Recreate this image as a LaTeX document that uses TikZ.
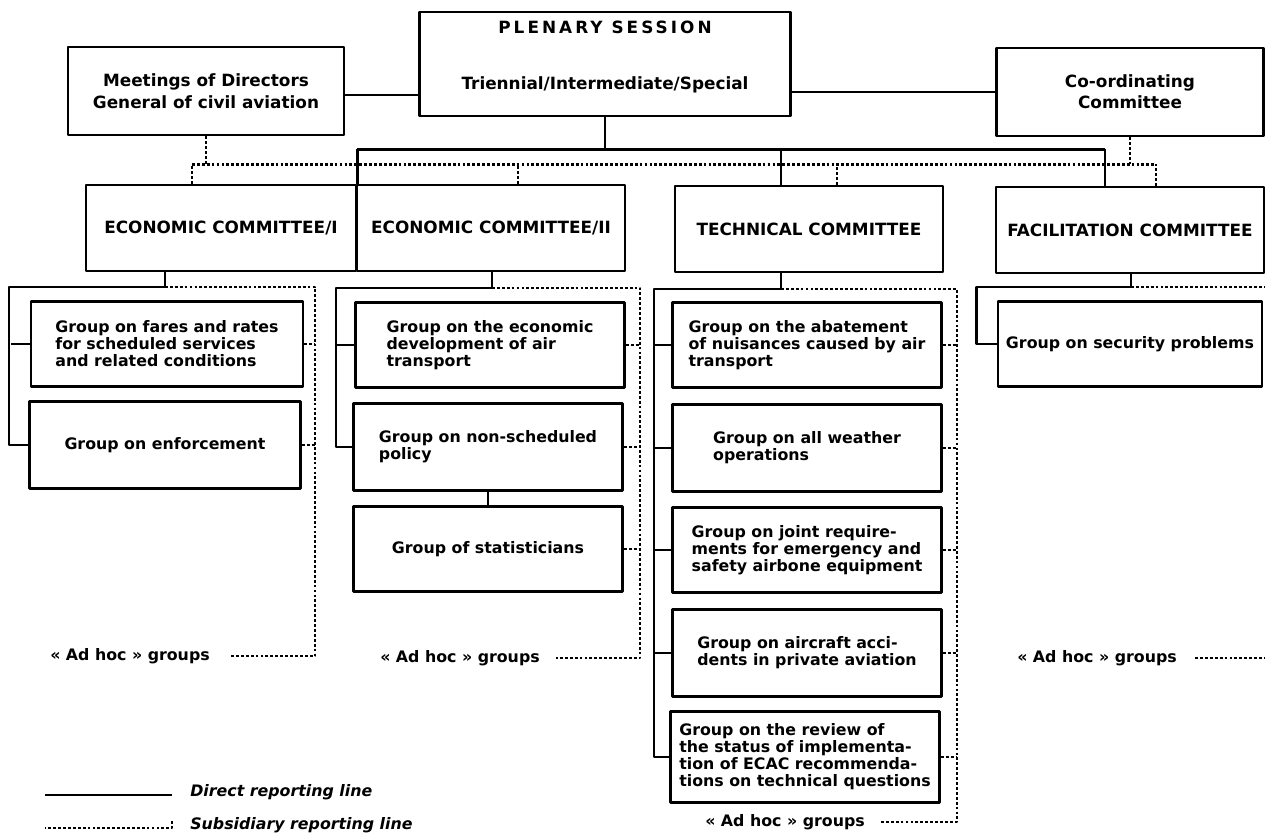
\documentclass[tikz,border=0pt]{standalone}
\usepackage{fontspec}
\setmainfont{DejaVu Sans}
\tikzset{
  box/.style={draw, line width=1.6pt, inner sep=2pt, align=center,
    font=\fontsize{9.6}{12}\selectfont\bfseries},
  topbox/.style={box, minimum height=1.76cm},
  cmt/.style={box, minimum width=5.36cm, minimum height=1.72cm},
  grp/.style={box, minimum width=5.38cm, minimum height=1.7cm, align=left,
    font=\fontsize{9}{9.7}\selectfont\bfseries},
  adhoc/.style={inner sep=0pt, font=\fontsize{9}{10}\selectfont\bfseries},
  legendtext/.style={inner sep=0pt, anchor=west,
    font=\fontsize{9}{10}\selectfont\bfseries\itshape},
  direct/.style={line width=1.5pt},
  subline/.style={line width=1.3pt, dash pattern=on 1.6pt off 1.2pt}
}
\begin{document}
\begin{tikzpicture}[line join=round,x=0.02cm,y=-0.02cm]
  \useasboundingbox (0,0) rectangle (1265,837);
  % top level
  \node[box, minimum width=7.42cm, minimum height=2.08cm] (plen) at (605,64)
    {\raisebox{0pt}[\height][\dimexpr\depth+8pt\relax]{%
     \begin{tabular}{@{}c@{}}{\addfontfeature{LetterSpace=18}PLENARY SESSION}\\[20pt]
     Triennial/Intermediate/Special\end{tabular}}};
  \node[topbox, minimum width=5.52cm] (meet) at (206,91)
    {Meetings of Directors\\[0.5pt]General of civil aviation};
  \node[topbox, minimum width=5.34cm] (coord) at (1130,92)
    {Co-ordinating\\Committee};
  \draw[direct] ([yshift=-0.08cm]meet.east) -- ([yshift=-0.08cm]meet.east -| plen.west);
  \draw[direct] (coord.west) -- (coord.west -| plen.east);
  % committees
  \node[cmt, minimum width=5.4cm] (ec1) at (221,228) {ECONOMIC COMMITTEE/I};
  \node[cmt] (ec2) at (491,228) {ECONOMIC COMMITTEE/II};
  \node[cmt] (tc) at (809,229) {TECHNICAL COMMITTEE};
  \node[cmt] (fc) at (1130,230) {FACILITATION COMMITTEE};
  % direct lines from plenary
  \draw[direct] (plen.south) -- ++(0,32) coordinate (pj);
  \draw[direct] (ec1.north east |- pj) -- ([shift={(-25,0)}]fc.north |- pj);
  \draw[direct] (ec1.north east) -- (ec1.north east |- pj);
  \foreach \n/\d in {tc/-28,fc/-25}
    \draw[direct] ([shift={(\d,0)}]\n.north) -- ([shift={(\d,0)}]\n.north |- pj);
  % subsidiary lines
  \draw[subline] (meet.south) -- ++(0,28) coordinate (mj);
  \draw[subline] (coord.south) -- (coord.south |- mj);
  \draw[subline] ([shift={(-29,0)}]ec1.north |- mj) -- ([shift={(26,0)}]fc.north |- mj);
  \foreach \n/\d in {ec1/-29,ec2/27,tc/28,fc/26}
    \draw[subline] ([shift={(\d,0)}]\n.north) -- ([shift={(\d,0)}]\n.north |- mj);
  % groups of economic committee I
  \node[grp, minimum width=5.44cm] (e1a) at (167,344)
    {Group on fares and rates\\for scheduled services\\and related conditions};
  \node[grp, minimum width=5.42cm, minimum height=1.74cm] (e1b) at (165,445) {Group on enforcement};
  \node[adhoc] (e1h) at (130,656) {«~Ad hoc~» groups};
  \coordinate (e1j) at (165,287);
  \coordinate (e1d) at (315,287);
  \draw[direct] (e1j |- ec1.south) -- (e1j) -| ([xshift=-0.38cm]e1b.west) -- (e1b.west);
  \draw[direct] (e1a.west) -- ++(-19,0);
  \draw[subline] (e1j) -- (e1d) -- (e1d |- e1h.east) -- ([xshift=0.38cm]e1h.east);
  \foreach \g in {e1a,e1b} \draw[subline] (\g.east) -- (\g.east -| e1d);
  % groups of economic committee II
  \node[grp] (e2a) at (490,345) {Group on the economic\\development of air\\transport};
  \node[grp, minimum height=1.74cm] (e2b) at (488,447) {Group on non-scheduled\\policy};
  \node[grp] (e2c) at (488,549) {Group of statisticians};
  \node[adhoc] (e2h) at (460,658) {«~Ad hoc~» groups};
  \coordinate (e2j) at (492,288);
  \coordinate (e2d) at (640,288);
  \draw[direct] (e2j |- ec2.south) -- (e2j) -| ([xshift=-0.32cm]e2b.west) -- (e2b.west);
  \draw[direct] (e2a.west) -- ++(-19,0);
  \draw[direct] (e2b.south) -- (e2c.north);
  \draw[subline] (e2j) -- (e2d) -- (e2d |- e2h.east) -- ([xshift=0.32cm]e2h.east);
  \foreach \g in {e2a,e2b,e2c} \draw[subline] (\g.east) -- (\g.east -| e2d);
  % groups of technical committee
  \node[grp] (t1) at (807,345) {Group on the abatement\\of nuisances caused by air\\transport};
  \node[grp, minimum height=1.74cm] (t2) at (807,448) {Group on all weather\\operations};
  \node[grp] (t3) at (807,550) {Group on joint require-\\ments for emergency and\\safety airbone equipment};
  \node[grp, minimum height=1.74cm] (t4) at (807,653) {Group on aircraft acci-\\dents in private aviation};
  \node[grp, minimum height=1.82cm] (t5) at (805,757)
    {Group on the review of\\the status of implementa-\\tion of ECAC recommenda-\\tions on technical questions};
  \node[adhoc] (th) at (785,822) {«~Ad hoc~» groups};
  \coordinate (tj) at (781,289);
  \coordinate (td) at (957,289);
  \draw[direct] (tj |- tc.south) -- (tj) -| ([xshift=-0.3cm]t5.west) -- (t5.west);
  \foreach \g in {t1,t2,t3,t4} \draw[direct] (\g.west) -- ++(-17,0);
  \draw[subline] (tj) -- (td) -- (td |- th.east) -- ([xshift=0.28cm]th.east);
  \foreach \g in {t1,t2,t3,t4,t5} \draw[subline] (\g.east) -- (\g.east -| td);
  % groups of facilitation committee
  \node[grp, minimum width=5.28cm] (sec) at (1130,344) {Group on security problems};
  \node[adhoc] (fh) at (1097,658) {«~Ad hoc~» groups};
  \coordinate (fj) at (1131,287);
  \coordinate (fd) at (1265,287);
  \draw[direct] (fj |- fc.south) -- (fj) -| ([xshift=-0.4cm]sec.west) -- (sec.west);
  \draw[subline] (fj) -- (fd);
  \draw[subline] ([xshift=0.36cm]fh.east) -- (fh.east -| fd);
  % legend
  \node[legendtext] (ldir) at (190,792) {Direct reporting line};
  \node[legendtext] (lsub) at (190,825) {Subsidiary reporting line};
  \draw[direct] ([shift={(-18,3)}]ldir.west) -- ++(-127,0);
  \draw[subline] ([shift={(-18,-4)}]lsub.west) -- ++(0,7) -- ++(-127,0);
\end{tikzpicture}
\end{document}
